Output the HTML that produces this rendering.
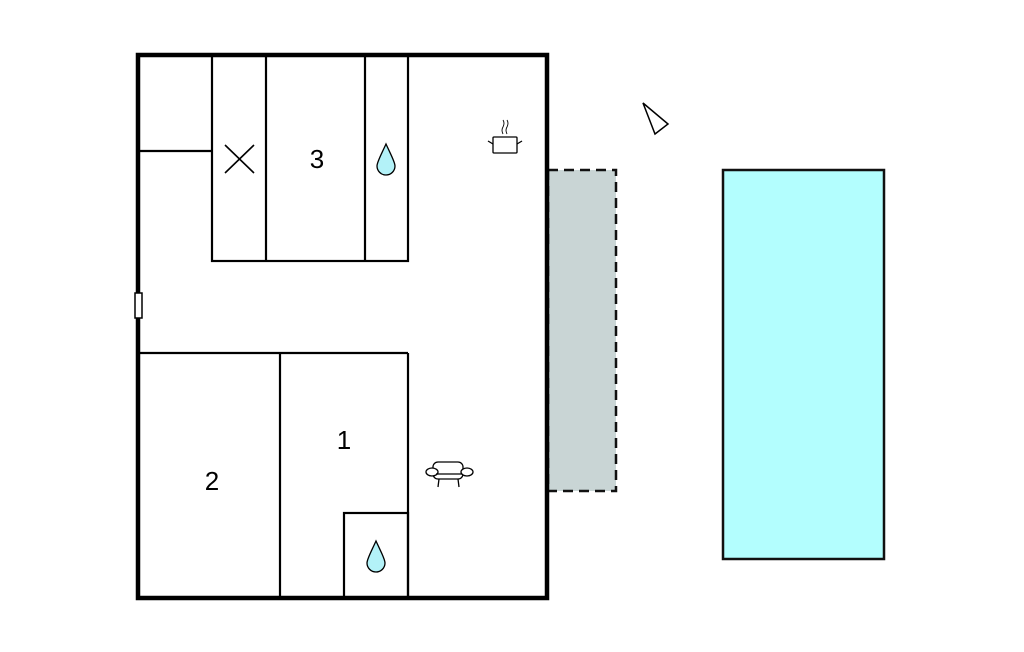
<!DOCTYPE html>
<html><head><meta charset="utf-8"><style>html,body{margin:0;padding:0;background:#fff}svg{display:block}</style></head>
<body>
<svg width="1024" height="652" viewBox="0 0 1024 652" xmlns="http://www.w3.org/2000/svg">
<rect x="0" y="0" width="1024" height="652" fill="#fff"/>
<!-- terrace -->
<rect x="548" y="170" width="68" height="321" fill="#c9d5d5" stroke="#111" stroke-width="2.5" stroke-dasharray="10,6"/>
<!-- pool -->
<rect x="723" y="170" width="161" height="389" fill="#b3fefe" stroke="#111" stroke-width="2.5"/>
<!-- outer walls -->
<rect x="138" y="55" width="409" height="543" fill="none" stroke="#000" stroke-width="4.5"/>
<!-- internal walls -->
<g stroke="#000" stroke-width="2.2" fill="none">
<rect x="212" y="55" width="196" height="206"/>
<line x1="266" y1="55" x2="266" y2="261"/>
<line x1="365" y1="55" x2="365" y2="261"/>
<line x1="138" y1="151" x2="212" y2="151"/>
<line x1="138" y1="353" x2="408" y2="353"/>
<line x1="280" y1="353" x2="280" y2="598"/>
<line x1="408" y1="353" x2="408" y2="598"/>
<rect x="344" y="513" width="64" height="85"/>
<line x1="225" y1="145" x2="254" y2="173" stroke-width="1.6"/>
<line x1="254" y1="145" x2="225" y2="173" stroke-width="1.6"/>
</g>
<!-- door -->
<rect x="135" y="293" width="7" height="25" fill="#fff" stroke="#000" stroke-width="1.5"/>
<!-- labels -->
<g font-family="Liberation Sans, sans-serif" font-size="26" text-anchor="middle" fill="#000">
<text x="317" y="168">3</text>
<text x="344" y="449">1</text>
<text x="212" y="490">2</text>
</g>
<!-- drops -->
<path d="M386,144 C381,155 377,162 377,166 A9,9 0 0 0 395,166 C395,162 391,155 386,144 Z" fill="#b3f2f8" stroke="#000" stroke-width="1.3"/>
<path d="M376,541 C371,552 367,559 367,563 A9,9 0 0 0 385,563 C385,559 381,552 376,541 Z" fill="#b3f2f8" stroke="#000" stroke-width="1.3"/>
<!-- pot -->
<g stroke="#000" stroke-width="1.3" fill="none">
<rect x="493" y="137" width="24" height="16" rx="1" fill="#fff"/>
<line x1="488" y1="141" x2="493" y2="144"/><line x1="522" y1="141" x2="517" y2="144"/>
<path d="M503,134 q-2,-4 0,-7 q2,-4 0,-7" stroke-width="0.9"/>
<path d="M507,134 q-2,-4 0,-7 q2,-4 0,-7" stroke-width="0.9"/>
</g>
<!-- sofa -->
<g stroke="#000" stroke-width="1.3" fill="#fff">
<rect x="433" y="462" width="30" height="17" rx="5"/>
<ellipse cx="432" cy="472" rx="6" ry="4"/>
<ellipse cx="467" cy="472" rx="6" ry="4"/>
<line x1="436" y1="474" x2="462" y2="474"/>
<line x1="439" y1="479" x2="438" y2="487"/><line x1="458" y1="479" x2="459" y2="487"/>
</g>
<!-- north triangle -->
<polygon points="643,103 668,124 655,134" fill="#fff" stroke="#000" stroke-width="1.5"/>
</svg>
</body></html>
